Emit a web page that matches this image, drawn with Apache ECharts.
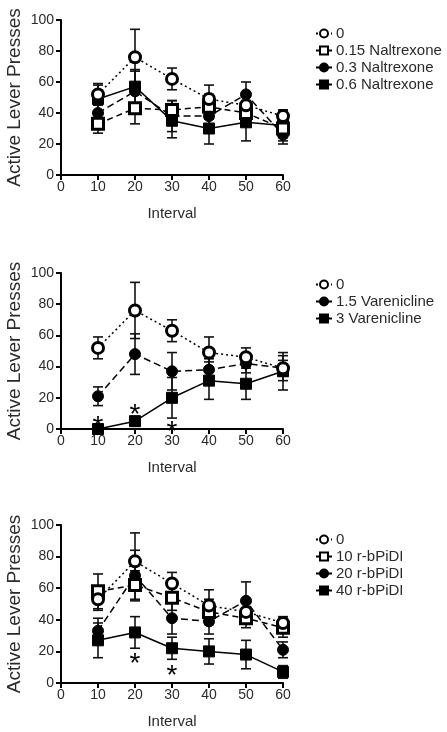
<!DOCTYPE html>
<html><head><meta charset="utf-8">
<script src="https://cdn.jsdelivr.net/npm/echarts@6/dist/echarts.min.js"></script>
<style>html,body{margin:0;padding:0;background:#fff}#c{width:447px;height:732px}</style>
</head><body><div id="c"></div>
<script>
const intervals = [10, 20, 30, 40, 50, 60];
const xTicks = [0, 10, 20, 30, 40, 50, 60];
const yTicks = [0, 20, 40, 60, 80, 100];

// Panel 1: Naltrexone
const nal0 = [52, 76, 62, 49, 45, 38];
const nal0Err = [7, 18, 7, 9, 6, 4];
const nal015 = [33, 43, 42, 44, 40, 30];
const nal015Err = [6, 10, 6, 8, 8, 6];
const nal03 = [40, 54, 38, 38, 52, 26];
const nal03Err = [8, 13, 10, 8, 8, 6];
const nal06 = [49, 57, 35, 30, 34, 32];
const nal06Err = [9, 11, 11, 10, 12, 10];

// Panel 2: Varenicline
const var0 = [52, 76, 63, 49, 46, 39];
const var0Err = [7, 18, 7, 10, 6, 5];
const var15 = [21, 48, 37, 38, 42, 39];
const var15Err = [6, 13, 12, 7, 6, 8];
const var3 = [0, 5, 20, 31, 29, 37];
const var3Err = [0, 3, 13, 12, 10, 12];
const varStarX = [10, 20, 30];
const varStarY = [6, 14, 3];

// Panel 3: r-bPiDI
const bp0 = [53, 77, 63, 49, 45, 38];
const bp0Err = [7, 18, 7, 10, 6, 4];
const bp10 = [58, 62, 54, 45, 41, 35];
const bp10Err = [11, 9, 8, 8, 6, 6];
const bp20 = [33, 68, 41, 39, 52, 21];
const bp20Err = [8, 16, 10, 8, 12, 5];
const bp40 = [27, 32, 22, 20, 18, 7];
const bp40Err = [11, 10, 7, 8, 9, 4];
const bpStarX = [20, 30];
const bpStarY = [17, 9];

const legend1 = ['0', '0.15 Naltrexone', '0.3 Naltrexone', '0.6 Naltrexone'];
const legend2 = ['0', '1.5 Varenicline', '3 Varenicline'];
const legend3 = ['0', '10 r-bPiDI', '20 r-bPiDI', '40 r-bPiDI'];

const FONT = 'Liberation Sans, Arial, sans-serif';
const TXT = '#2a2a2a';

const styles = {
  openCircle: {symbol: 'circle', fill: '#fff'},
  openSquare: {symbol: 'rect', fill: '#fff'},
  filledCircle: {symbol: 'circle', fill: '#000'},
  filledSquare: {symbol: 'rect', fill: '#000'}
};
const dashes = {dot: [2, 3], dash: [6, 4], dash2: [7, 4], solid: 'solid'};

function lineSeries(name, vals, gi, mk, dash) {
  const s = styles[mk];
  return {
    type: 'line', name: name, xAxisIndex: gi, yAxisIndex: gi,
    data: intervals.map((x, i) => [x, vals[i]]),
    symbol: s.symbol, symbolSize: 11,
    itemStyle: {color: s.fill, borderColor: '#000', borderWidth: s.fill === '#fff' ? 3 : 1},
    lineStyle: {color: '#000', width: 1.5, type: dashes[dash]},
    z: 3, animation: false
  };
}
function errItem(params, api) {
  const x = api.value(0), lo = api.value(1), hi = api.value(2);
  const p1 = api.coord([x, hi]), p2 = api.coord([x, lo]);
  const w = 5;
  const st = {stroke: '#111', lineWidth: 1.6};
  return {type: 'group', children: [
    {type: 'line', shape: {x1: p1[0], y1: p1[1], x2: p2[0], y2: p2[1]}, style: st},
    {type: 'line', shape: {x1: p1[0] - w, y1: p1[1], x2: p1[0] + w, y2: p1[1]}, style: st},
    {type: 'line', shape: {x1: p2[0] - w, y1: p2[1], x2: p2[0] + w, y2: p2[1]}, style: st}
  ]};
}
function errSeries(vals, errs, gi) {
  return {
    type: 'custom', name: 'err', xAxisIndex: gi, yAxisIndex: gi,
    data: intervals.map((x, i) => [x, Math.max(0, vals[i] - errs[i]), vals[i] + errs[i]]),
    renderItem: errItem, z: 2, animation: false, silent: true
  };
}
function starSeries(xs, ys, gi) {
  return {
    type: 'scatter', name: 'star', xAxisIndex: gi, yAxisIndex: gi,
    data: xs.map((x, i) => [x, ys[i]]), symbol: 'circle', symbolSize: 2,
    itemStyle: {color: '#fff', opacity: 0},
    label: {show: true, formatter: '*', position: 'inside', fontSize: 28, fontFamily: FONT,
      color: '#000', opacity: 1, textBorderWidth: 0, offset: [0, 8]},
    z: 4, animation: false, silent: true
  };
}

const grids = [
  {left: 61, width: 222, top: 20, height: 155},
  {left: 61, width: 222, top: 273, height: 156},
  {left: 61, width: 222, top: 525, height: 158}
];
const legendTops = [21, 272, 527];
const legendData = [legend1, legend2, legend3];

const option = {
  backgroundColor: '#fff',
  animation: false,
  grid: grids,
  legend: legendData.map((d, i) => ({
    data: d, orient: 'vertical', left: 310, top: legendTops[i],
    itemWidth: 16, itemHeight: 10, itemGap: 2, selectedMode: false,
    textStyle: {fontSize: 15, fontFamily: FONT, color: TXT, padding: [0, 0, 0, -1]}
  })),
  xAxis: grids.map((g, i) => ({
    type: 'value', gridIndex: i, min: 0, max: 60, interval: 10,
    name: 'Interval', nameLocation: 'middle', nameGap: 31,
    nameTextStyle: {fontSize: 15, fontFamily: FONT, color: TXT},
    axisLine: {lineStyle: {color: '#000', width: 2}},
    axisTick: {show: true, length: 5, lineStyle: {color: '#000', width: 2}},
    axisLabel: {fontSize: 14, fontFamily: FONT, color: TXT, margin: 5},
    splitLine: {show: false}
  })),
  yAxis: grids.map((g, i) => ({
    type: 'value', gridIndex: i, min: 0, max: 100, interval: 20,
    name: 'Active Lever Presses', nameLocation: 'middle', nameGap: 37,
    nameTextStyle: {fontSize: 19, fontFamily: FONT, color: TXT},
    axisLine: {show: true, lineStyle: {color: '#000', width: 2}},
    axisTick: {show: true, length: 5, lineStyle: {color: '#000', width: 2}},
    axisLabel: {fontSize: 14, fontFamily: FONT, color: TXT, margin: 7},
    splitLine: {show: false}
  })),
  series: [
    errSeries(nal0, nal0Err, 0), errSeries(nal015, nal015Err, 0),
    errSeries(nal03, nal03Err, 0), errSeries(nal06, nal06Err, 0),
    lineSeries('0.6 Naltrexone', nal06, 0, 'filledSquare', 'solid'),
    lineSeries('0.3 Naltrexone', nal03, 0, 'filledCircle', 'dash2'),
    lineSeries('0.15 Naltrexone', nal015, 0, 'openSquare', 'dash'),
    lineSeries('0', nal0, 0, 'openCircle', 'dot'),

    errSeries(var0, var0Err, 1), errSeries(var15, var15Err, 1), errSeries(var3, var3Err, 1),
    lineSeries('3 Varenicline', var3, 1, 'filledSquare', 'solid'),
    lineSeries('1.5 Varenicline', var15, 1, 'filledCircle', 'dash2'),
    lineSeries('0', var0, 1, 'openCircle', 'dot'),
    starSeries(varStarX, varStarY, 1),

    errSeries(bp0, bp0Err, 2), errSeries(bp10, bp10Err, 2),
    errSeries(bp20, bp20Err, 2), errSeries(bp40, bp40Err, 2),
    lineSeries('40 r-bPiDI', bp40, 2, 'filledSquare', 'solid'),
    lineSeries('20 r-bPiDI', bp20, 2, 'filledCircle', 'dash2'),
    lineSeries('10 r-bPiDI', bp10, 2, 'openSquare', 'dash'),
    lineSeries('0', bp0, 2, 'openCircle', 'dot'),
    starSeries(bpStarX, bpStarY, 2)
  ]
};
const chart = echarts.init(document.getElementById('c'), null, {renderer: 'canvas'});
chart.setOption(option);
</script>
</body></html>
